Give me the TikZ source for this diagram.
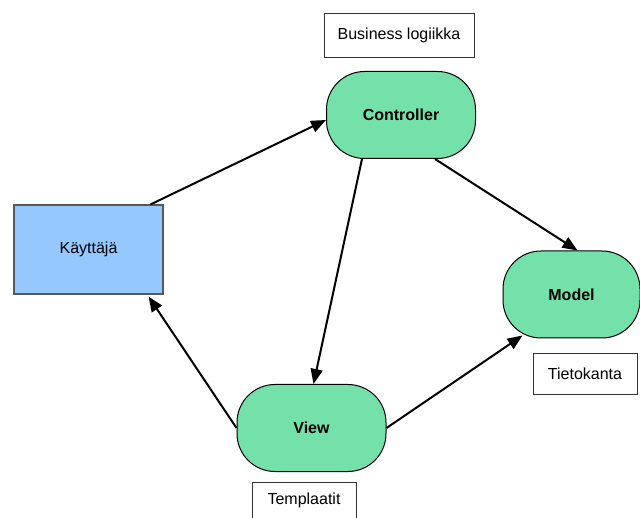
\documentclass[tikz,border=0pt]{standalone}
\usepackage{fontspec}
\setmainfont{Liberation Sans}
\usetikzlibrary{arrows.meta}
\definecolor{mvcgreen}{HTML}{73E1A9}
\definecolor{userblue}{HTML}{94C8FF}
\begin{document}
\begin{tikzpicture}[x=1pt,y=-1pt,
  font=\fontsize{16}{19}\selectfont,
  part/.style={draw=black,line width=1pt,fill=mvcgreen,rounded corners=38pt,
    minimum height=87pt,minimum width=149pt,inner sep=0pt,font=\fontsize{16}{19}\selectfont\bfseries},
  actor/.style={draw=black!65,line width=1.2pt,fill=userblue,minimum width=149pt,
    minimum height=89pt,inner sep=0pt},
  note/.style={draw=black!80,line width=0.8pt,fill=white,inner sep=0pt},
  flow/.style={line width=2pt,-{Triangle[length=15pt,width=12pt]}}]
\useasboundingbox (0,0) rectangle (640,518);
\fill[white] (0,0) rectangle (640,518);

% main components
\node[part] (c) at (401,115) {Controller};
\node[part] (v) at (311.5,428) {View};
\node[part,minimum width=137pt] (m) at (571.5,294.5) {Model};
\node[actor] (k) at (88.5,249.5) {Käyttäjä};

% captions
\node[note,minimum width=150pt,minimum height=44pt] (bl) at (399,35.5) {Business logiikka};
\node[note,minimum width=104pt,minimum height=41pt] (tk) at (585,373.5) {Tietokanta};
\node[note,minimum width=104pt,minimum height=36pt] (tp) at (304,500) {Templaatit};

% connectors
\draw[flow] ([xshift=-13pt]k.north east) -- ([yshift=-5pt]c.west);
\draw[flow] ([xshift=34pt]c.south) -- ([xshift=6pt]m.north);
\draw[flow] ([xshift=-39pt]c.south) -- ([xshift=2pt]v.north);
\draw[flow] (v.west) -- ([xshift=-15pt,yshift=-2pt]k.south east);
\draw[flow] (v.east) -- ([xshift=20pt,yshift=3pt]m.south west);
\end{tikzpicture}
\end{document}
